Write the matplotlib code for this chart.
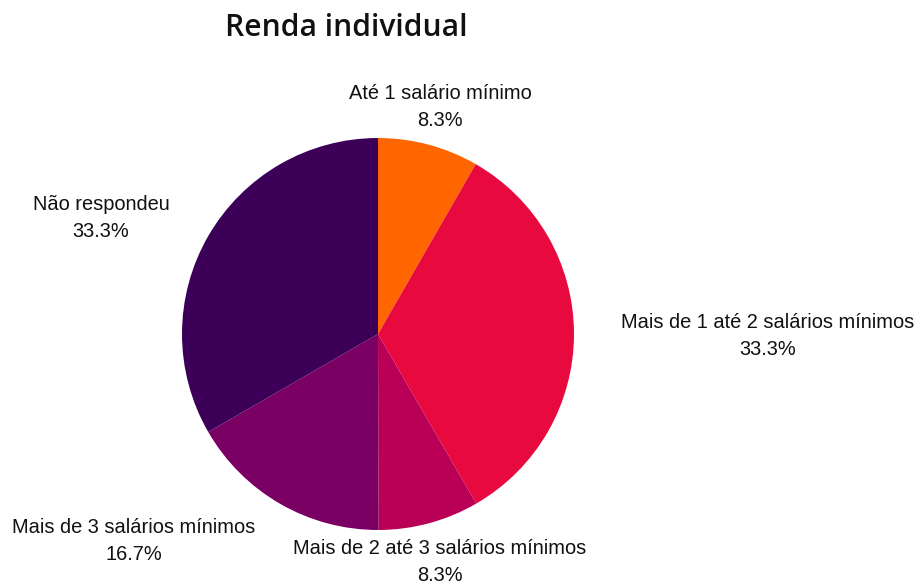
import matplotlib.pyplot as plt

# Dados
categorias = ['Até 1 salário mínimo', 'Mais de 1 até 2 salários mínimos',
              'Mais de 2 até 3 salários mínimos', 'Mais de 3 salários mínimos',
              'Não respondeu']
percentuais = [8.3, 33.3, 8.3, 16.7, 33.3]
cores = ['#FF6600', '#E8093F', '#BA0056', '#7B0063', '#3C0058']

# posições (px) dos rótulos, centro do bloco de duas linhas
pos_rotulos = [(440, 107), (768, 336), (440, 562), (134, 541), (101, 218)]

W, H = 921, 585
cx, cy, r = 378, 334, 196

fig = plt.figure(figsize=(W / 100, H / 100), dpi=100)
ax = fig.add_axes([0, 0, 1, 1])
ax.pie(percentuais, colors=cores, startangle=90, counterclock=False,
       radius=1, center=(0, 0), wedgeprops={'linewidth': 0})
ax.set_xlim(-cx / r, (W - cx) / r)
ax.set_ylim(-(H - cy) / r, cy / r)
ax.set_aspect('equal')
ax.axis('off')

for nome, p, (px, py) in zip(categorias, percentuais, pos_rotulos):
    ax.text((px - cx) / r, (cy - py) / r, f'{nome}\n{p:.1f}%',
            ha='center', va='center', fontsize=14.4, family='Liberation Sans',
            linespacing=1.48, color='#111111')

fig.text(346 / W, 1 - 28 / H, 'Renda individual', ha='center', va='center',
         fontsize=21.6, family='Open Sans', fontweight='semibold', color='#111111')

plt.savefig('out.png', dpi=100)
